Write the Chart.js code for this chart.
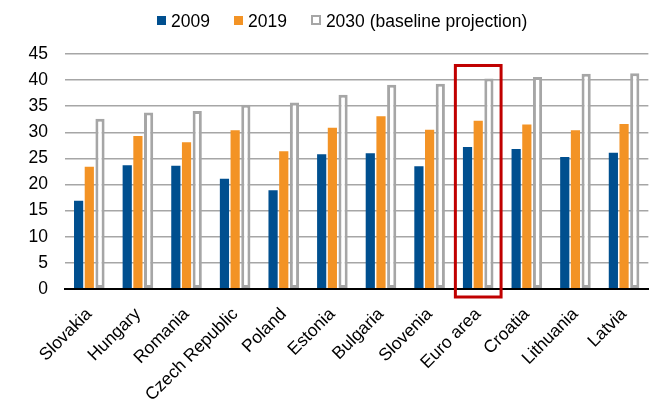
<!DOCTYPE html>
<html>
<head>
<meta charset="utf-8">
<script src="https://cdn.jsdelivr.net/npm/chart.js@4/dist/chart.umd.min.js"></script>
<style>
  html, body { margin: 0; padding: 0; background: #ffffff; }
  #wrap { width: 654px; height: 403px; position: relative; overflow: hidden; }
  #legend {
    position: absolute; left: 157px; top: 11px;
    display: flex; align-items: center; gap: 24px;
    font-family: 'Liberation Sans', Arial, sans-serif; font-size: 17.5px;
    line-height: 20px; color: #000; white-space: nowrap;
  }
  #legend .item { display: flex; align-items: center; }
  #legend .box { width: 9px; height: 9px; margin-right: 5px; box-sizing: border-box; position: relative; top: -1px; }
</style>
</head>
<body>
<div id="wrap">
  <canvas id="chart"></canvas>
  <div id="legend"></div>
</div>
<script>
// Countries, ordered by projected 2030 value
const categories = ['Slovakia', 'Hungary', 'Romania', 'Czech Republic', 'Poland', 'Estonia',
                    'Bulgaria', 'Slovenia', 'Euro area', 'Croatia', 'Lithuania', 'Latvia'];
const values2009 = [16.9, 23.7, 23.6, 21.1, 18.9, 25.8, 26.0, 23.5, 27.2, 26.8, 25.3, 26.1];
const values2019 = [23.4, 29.3, 28.1, 30.4, 26.4, 30.9, 33.1, 30.5, 32.2, 31.5, 30.4, 31.6];
const values2030 = [32.6, 33.8, 34.1, 35.3, 35.7, 37.2, 39.1, 39.3, 40.3, 40.6, 41.2, 41.3];
const seriesLabels = ['2009', '2019', '2030 (baseline projection)'];
const yTicks = [0, 5, 10, 15, 20, 25, 30, 35, 40, 45];
const highlighted = 'Euro area';

const FONT = "'Liberation Sans', Arial, sans-serif";
const BLUE = '#004F8F', ORANGE = '#F39325', GREY = '#A6A6A6';

// Legend row
const legendStyles = [
  { fill: BLUE, border: 'none' },
  { fill: ORANGE, border: 'none' },
  { fill: '#FFFFFF', border: '2px solid ' + GREY, size: 10 }
];
const legendEl = document.getElementById('legend');
seriesLabels.forEach((label, i) => {
  const item = document.createElement('div');
  item.className = 'item';
  const box = document.createElement('span');
  box.className = 'box';
  box.style.background = legendStyles[i].fill;
  box.style.border = legendStyles[i].border;
  if (legendStyles[i].size) { box.style.width = box.style.height = legendStyles[i].size + 'px'; }
  const text = document.createElement('span');
  text.textContent = label;
  item.appendChild(box);
  item.appendChild(text);
  legendEl.appendChild(item);
});

// Box around the highlighted category
const highlightBox = {
  id: 'highlightBox',
  afterDraw(chart) {
    const x = chart.scales.x, y = chart.scales.y;
    const i = categories.indexOf(highlighted);
    if (i < 0) return;
    const step = x.getPixelForValue(1) - x.getPixelForValue(0);
    const cx = x.getPixelForValue(i);
    const half = step * 0.47;
    const top = y.getPixelForValue(42.8);
    const bottom = y.getPixelForValue(0) + 8;
    const ctx = chart.ctx;
    ctx.save();
    ctx.strokeStyle = '#C00000';
    ctx.lineWidth = 3;
    ctx.strokeRect(cx - half, top, half * 2, bottom - top);
    ctx.restore();
  }
};

new Chart(document.getElementById('chart'), {
  type: 'bar',
  data: {
    labels: categories,
    datasets: [
      { label: seriesLabels[0], data: values2009, backgroundColor: BLUE, borderWidth: 0 },
      { label: seriesLabels[1], data: values2019, backgroundColor: ORANGE, borderWidth: 0 },
      { label: seriesLabels[2], data: values2030, backgroundColor: '#FFFFFF',
        borderColor: GREY, borderWidth: 3, borderSkipped: false }
    ]
  },
  options: {
    responsive: true,
    maintainAspectRatio: false,
    animation: false,
    devicePixelRatio: 1,
    layout: { padding: { left: 0, right: 2, top: 54, bottom: 0 } },
    datasets: { bar: { categoryPercentage: 0.66, barPercentage: 0.86 } },
    plugins: {
      tooltip: { enabled: false },
      legend: { display: false }
    },
    scales: {
      x: {
        afterFit(scale) { scale.height = 114; },
        grid: { display: false, drawTicks: false },
        border: { display: true, color: '#000', width: 2 },
        ticks: {
          color: '#000',
          font: { family: FONT, size: 17.5 },
          maxRotation: 45, minRotation: 45,
          padding: 15,
          autoSkip: false
        }
      },
      y: {
        min: 0, max: 45,
        afterFit(scale) { scale.width = 65; },
        afterBuildTicks(scale) { scale.ticks = yTicks.map(v => ({ value: v })); },
        grid: {
          drawTicks: false,
          color: ctx => ctx.tick && ctx.tick.value === 0 ? '#000' : GREY,
          lineWidth: ctx => ctx.tick && ctx.tick.value === 0 ? 2 : 1.5
        },
        border: { display: false },
        ticks: {
          color: '#000',
          font: { family: FONT, size: 17.5 },
          padding: 17
        }
      }
    }
  },
  plugins: [highlightBox]
});
</script>
</body>
</html>
